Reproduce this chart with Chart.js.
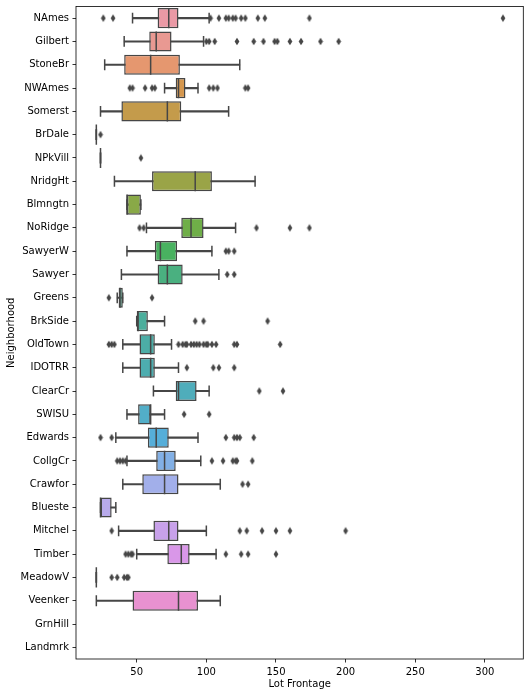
<!DOCTYPE html>
<html>
<head>
<meta charset="utf-8">
<script src="https://cdn.jsdelivr.net/npm/chart.js@4"></script>
<style>
html,body{margin:0;padding:0;background:#fff;overflow:hidden;}
canvas{display:block;}
</style>
</head>
<body>
<canvas id="c" width="530" height="697" style="width:530px;height:697px"></canvas>
<script>
const categories = ['NAmes','Gilbert','StoneBr','NWAmes','Somerst','BrDale','NPkVill','NridgHt','Blmngtn','NoRidge','SawyerW','Sawyer','Greens','BrkSide','OldTown','IDOTRR','ClearCr','SWISU','Edwards','CollgCr','Crawfor','Blueste','Mitchel','Timber','MeadowV','Veenker','GrnHill','Landmrk'];
const whiskerLow  = [47,41,27,70,24,21,24,34,43,57,43,39,36,50,40,40,62,43,35,43,40,24,37,50,21,21,null,null];
const q1          = [65,59,41,78,39,21,24,61,43,82,63,65,37,50,52,52,78,51,58,64,54,24,62,72,21,47,null,null];
const median      = [73,64,60,80,72,21,24,92,43,89,67,72,38,51,60,60,80,60,64,70,70,24,73,82,21,80,null,null];
const q3          = [80,75,81,85,82,21,24,104,53,98,79,83,40,58,63,63,93,60,73,78,80,32,80,88,21,94,null,null];
const whiskerHigh = [102,98,124,94,116,21,24,135,53,121,104,109,40,70,75,80,102,70,94,96,110,35,100,107,21,110,null,null];
const outliers = [
  [26,33,103,109,114,116,119,121,125,128,137,142,174,313],
  [100,102,106,122,134,141,149,151,160,168,182,195],
  [],
  [45,47,56,61,63,102,105,108,128,130],
  [],
  [24],
  [53],
  [],
  [],
  [52,55,136,160,174],
  [114,116,120],
  [115,120],
  [30,61],
  [92,98,144],
  [30,32,34,80,83,85,86,89,91,93,95,98,100,101,104,107,120,122,153],
  [86,105,109,120],
  [138,155],
  [84,102],
  [24,32,114,120,122,124,134],
  [36,38,40,42,104,112,119,121,122,133],
  [126,130],
  [],
  [32,124,129,140,150,160,200],
  [42,44,46,47,114,125,130,150],
  [32,36,41,43,44],
  [],
  [],
  []
];
const xTicks = [50,100,150,200,250,300];
const xMin = 6.4, xMax = 327.6;

// ---- seaborn-like husl palette (l=.7) desaturated by .75 ----
function huslToRgb(h, s, l) {
  const M = [[3.2406,-1.5372,-0.4986],[-0.9689,1.8758,0.0415],[0.0557,-0.2040,1.0570]];
  const refU = 0.19784, refV = 0.46834, refY = 1.0, kappa = 903.3, eps = 0.008856;
  function maxChroma(L, H) {
    const hr = H / 360 * 2 * Math.PI, sinH = Math.sin(hr), cosH = Math.cos(hr);
    const sub1 = Math.pow(L + 16, 3) / 1560896;
    const sub2 = sub1 > eps ? sub1 : L / kappa;
    let res = Infinity;
    for (const [m1, m2, m3] of M) {
      const top = (0.99915 * m1 + 1.05122 * m2 + 1.14460 * m3) * sub2;
      const rb = 0.86330 * m3 - 0.17266 * m2;
      const lb = 0.12949 * m3 - 0.38848 * m1;
      const bottom = (rb * sinH + lb * cosH) * sub2;
      for (const t of [0, 1]) {
        const C = L * (top - 1.05122 * t) / (bottom + 0.17266 * sinH * t);
        if (C > 0 && C < res) res = C;
      }
    }
    return res;
  }
  const C = maxChroma(l, h) / 100 * s;
  const hr = h / 360 * 2 * Math.PI;
  const U = Math.cos(hr) * C, V = Math.sin(hr) * C;
  const t = (l + 16) / 116;
  const varY = Math.pow(t, 3) > eps ? Math.pow(t, 3) : (116 * t - 16) / kappa;
  const varU = U / (13 * l) + refU, varV = V / (13 * l) + refV;
  const Y = varY * refY;
  const X = 0 - (9 * Y * varU) / ((varU - 4) * varV - varU * varV);
  const Z = (9 * Y - 15 * varV * Y - varV * X) / (3 * varV);
  return M.map(r => {
    const c = r[0] * X + r[1] * Y + r[2] * Z;
    const v = c <= 0.0031308 ? 12.92 * c : 1.055 * Math.pow(c, 1 / 2.4) - 0.055;
    return Math.min(1, Math.max(0, v));
  });
}
function rgbToHls(r, g, b) {
  const maxc = Math.max(r, g, b), minc = Math.min(r, g, b);
  const l = (maxc + minc) / 2;
  if (maxc === minc) return [0, l, 0];
  const rc0 = maxc - minc;
  const s = l <= 0.5 ? rc0 / (maxc + minc) : rc0 / (2 - maxc - minc);
  const rc = (maxc - r) / rc0, gc = (maxc - g) / rc0, bc = (maxc - b) / rc0;
  let h;
  if (r === maxc) h = bc - gc; else if (g === maxc) h = 2 + rc - bc; else h = 4 + gc - rc;
  h = ((h / 6) % 1 + 1) % 1;
  return [h, l, s];
}
function hlsToRgb(h, l, s) {
  if (s === 0) return [l, l, l];
  const m2 = l <= 0.5 ? l * (1 + s) : l + s - l * s;
  const m1 = 2 * l - m2;
  const v = (hue) => {
    hue = ((hue % 1) + 1) % 1;
    if (hue < 1 / 6) return m1 + (m2 - m1) * hue * 6;
    if (hue < 0.5) return m2;
    if (hue < 2 / 3) return m1 + (m2 - m1) * (2 / 3 - hue) * 6;
    return m1;
  };
  return [v(h + 1 / 3), v(h), v(h - 1 / 3)];
}
const n = categories.length;
const palette = [];
let minLight = 1;
for (let i = 0; i < n; i++) {
  const hue = ((i / n + 0.01) % 1) * 359;
  const rgb = huslToRgb(hue, 0.9 * 99, 0.7 * 100);
  const [h, l, s] = rgbToHls(...rgb);
  const d = hlsToRgb(h, l, s * 0.75);
  minLight = Math.min(minLight, rgbToHls(...d)[1]);
  palette.push('rgb(' + d.map(c => Math.round(c * 255)).join(',') + ')');
}
const lumv = Math.round(minLight * 0.6 * 255);
const gray = 'rgb(' + lumv + ',' + lumv + ',' + lumv + ')';

// thin diamond marker
const dia = document.createElement('canvas');
dia.width = 6; dia.height = 9;
(function () {
  const c = dia.getContext('2d');
  c.fillStyle = gray;
  c.beginPath();
  c.moveTo(3, 0.7); c.lineTo(5.4, 4.5); c.lineTo(3, 8.3); c.lineTo(0.6, 4.5); c.closePath();
  c.fill();
})();

const medianPts = [], capPts = [], outPts = [];
categories.forEach((cat, i) => {
  if (median[i] != null) medianPts.push({x: median[i], y: cat});
  if (whiskerLow[i] != null) { capPts.push({x: whiskerLow[i], y: cat}); capPts.push({x: whiskerHigh[i], y: cat}); }
  outliers[i].forEach(v => outPts.push({x: v, y: cat}));
});

const rowH = (697 - 38 - 6.5) / n;

const framePlugin = {
  id: 'frame',
  afterDraw(chart) {
    const {ctx, chartArea: a} = chart;
    ctx.save();
    ctx.strokeStyle = '#000';
    ctx.lineWidth = 0.8;
    ctx.strokeRect(a.left, a.top, a.right - a.left, a.bottom - a.top);
    ctx.restore();
  }
};

const font = {family: 'DejaVu Sans', size: 10};

new Chart(document.getElementById('c'), {
  type: 'bar',
  data: {
    labels: categories,
    datasets: [
      {
        type: 'scatter', label: 'outliers', data: outPts, order: 0,
        pointStyle: dia, pointRadius: 3, showLine: false
      },
      {
        type: 'scatter', label: 'median', data: medianPts, order: 1,
        pointStyle: 'line', pointRotation: 90, pointRadius: rowH * 0.4 + 0.75,
        pointBorderColor: gray, pointBorderWidth: 1.5, showLine: false
      },
      {
        type: 'bar', label: 'box', order: 2, grouped: false,
        data: categories.map((c, i) => q1[i] == null ? null : [q1[i], q3[i]]),
        backgroundColor: palette, borderColor: gray, borderWidth: 1.5, borderSkipped: false,
        barPercentage: 0.8 + 1.5 / rowH, categoryPercentage: 1.0
      },
      {
        type: 'scatter', label: 'caps', data: capPts, order: 3,
        pointStyle: 'line', pointRotation: 90, pointRadius: rowH * 0.2 + 0.75,
        pointBorderColor: gray, pointBorderWidth: 1.5, showLine: false
      },
      {
        type: 'bar', label: 'whiskers', order: 4, grouped: false,
        data: categories.map((c, i) => whiskerLow[i] == null ? null : [whiskerLow[i], whiskerHigh[i]]),
        backgroundColor: gray, borderWidth: 0, barThickness: 1.5
      }
    ]
  },
  options: {
    indexAxis: 'y',
    responsive: false,
    devicePixelRatio: 1,
    animation: false,
    events: [],
    layout: {autoPadding: false, padding: {top: 6.5, right: 6.7, left: 0, bottom: 0}},
    plugins: {legend: {display: false}, tooltip: {enabled: false}},
    scales: {
      x: {
        type: 'linear', min: xMin, max: xMax,
        afterBuildTicks: s => { s.ticks = xTicks.map(v => ({value: v})); },
        afterFit: s => { s.height = 38; s.paddingLeft = 0; s.paddingRight = 0; },
        grid: {display: true, drawOnChartArea: false, drawTicks: true, tickLength: 3.5, color: '#000', lineWidth: 0.8},
        border: {display: false},
        ticks: {color: '#000', font: font, padding: 3.5, maxRotation: 0},
        title: {display: true, text: 'Lot Frontage', color: '#000', font: font, padding: {top: 0, bottom: 6.7}}
      },
      y: {
        type: 'category', offset: true,
        afterFit: s => { s.width = 76; s.paddingTop = 0; s.paddingBottom = 0; },
        grid: {display: true, offset: false, drawOnChartArea: false, drawTicks: true, tickLength: 3.5, color: '#000', lineWidth: 0.8},
        border: {display: false},
        ticks: {color: '#000', font: font, padding: 3.5, autoSkip: false},
        title: {display: true, text: 'Neighborhood', color: '#000', font: font, padding: {top: 5.5, bottom: 0}}
      }
    }
  },
  plugins: [framePlugin]
});
</script>
</body>
</html>
